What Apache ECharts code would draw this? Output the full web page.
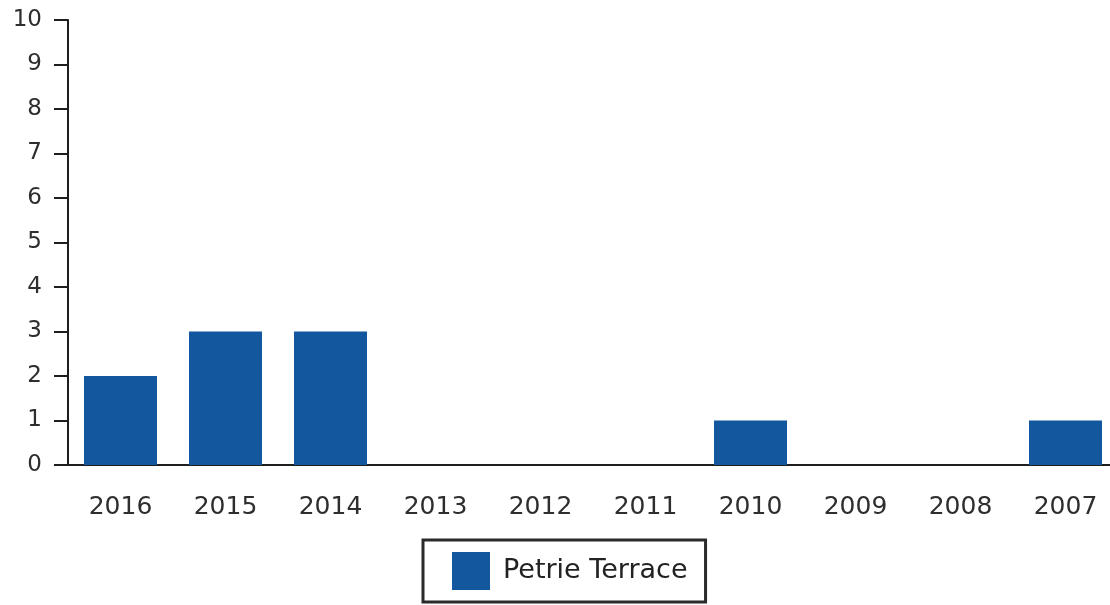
<!DOCTYPE html>
<html>
<head>
<meta charset="utf-8">
<script src="https://cdn.jsdelivr.net/npm/echarts@6/dist/echarts.min.js"></script>
<style>
  html, body {margin: 0; padding: 0; background: #fff; overflow: hidden;}
  /* a bit wider than the window: the plot runs past the right edge like the scan */
  #chart {width: 1120px; height: 605px;}
</style>
</head>
<body>
<div id="chart"></div>
<script>
// years as shown on the x axis (newest first)
const years = ['2016', '2015', '2014', '2013', '2012', '2011', '2010', '2009', '2008', '2007'];
const seriesName = 'Petrie Terrace';
const counts = [2, 3, 3, 0, 0, 0, 1, 0, 0, 1];

const chart = echarts.init(document.getElementById('chart'));
const font = 'DejaVu Sans';

const option = {
  animation: false,
  backgroundColor: '#fff',
  grid: {left: 68, top: 20, width: 1050, height: 445},
  legend: {
    data: [seriesName],
    left: 423,
    top: 540,
    padding: [12, 18, 12, 29],
    borderColor: '#2b2b2b',
    borderWidth: 3,
    itemWidth: 38,
    itemHeight: 38,
    icon: 'rect',
    textStyle: {fontFamily: font, fontSize: 27, color: '#222', padding: [0, 0, 0, 8]}
  },
  xAxis: {
    type: 'category',
    data: years,
    axisLine: {lineStyle: {color: '#1e1e1e', width: 2}},
    axisTick: {alignWithLabel: true, length: 13, lineStyle: {color: '#1e1e1e', width: 2}},
    axisLabel: {fontFamily: font, fontSize: 25, color: '#2e2e2e', margin: 30}
  },
  yAxis: {
    type: 'value',
    min: 0,
    max: 10,
    interval: 1,
    splitLine: {show: false},
    axisLine: {show: true, lineStyle: {color: '#1e1e1e', width: 2}},
    axisTick: {show: true, length: 14, lineStyle: {color: '#1e1e1e', width: 2}},
    axisLabel: {fontFamily: font, fontSize: 23, color: '#2e2e2e', margin: 26}
  },
  series: [{
    name: seriesName,
    type: 'bar',
    data: counts,
    barWidth: 73,
    itemStyle: {color: '#13579f'}
  }]
};

chart.setOption(option);
</script>
</body>
</html>
